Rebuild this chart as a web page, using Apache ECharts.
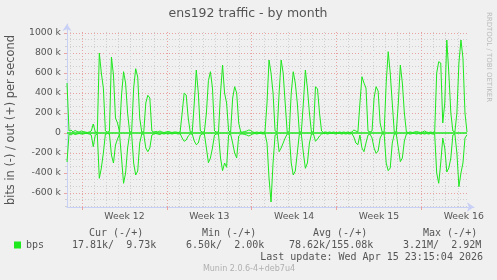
<!DOCTYPE html>
<html><head><meta charset="utf-8">
<script src="https://cdn.jsdelivr.net/npm/echarts@6/dist/echarts.min.js"></script>
<style>html,body{margin:0;padding:0;background:#f0f0f0}#c{width:497px;height:280px}</style>
</head><body><div id="c"></div>
<script>
// ---- data ----
const chartTitle = 'ens192 traffic - by month';
const yAxisTitle = 'bits in (-) / out (+) per second';
const watermark = 'RRDTOOL / TOBI OETIKER';
const footer = 'Munin 2.0.6-4+deb7u4';
const lastUpdate = 'Last update: Wed Apr 15 23:15:04 2026';
const stepHours = 4;          // sample spacing
const spanHours = 792;        // 33 days shown
const weekLabels = [12, 13, 14, 15, 16];
const legendName = 'bps';
const legendHeaders = ['Cur (-/+)', 'Min (-/+)', 'Avg (-/+)', 'Max (-/+)'];
const legendValues = ['17.81k/  9.73k', '6.50k/  2.00k', '78.62k/155.08k', '3.21M/  2.92M'];
// out (+) in kbit/s, one value every 4 hours
const outKbps = [
  500, 20, 30, 10, 25, 15,
  10, 20, 15, 10, 5, 10,
  20, 90, 10, 5, 800, 600,
  450, 20, 10, 15, 760, 580,
  150, 100, 10, 380, 613, 500,
  200, 10, 10, 450, 643, 560,
  150, 10, 10, 300, 377, 350,
  20, 10, 15, 10, 20, 10,
  5, 10, 15, 10, 5, 10,
  10, 5, 10, 200, 400, 380,
  150, 10, 10, 300, 630, 400,
  20, 10, 10, 200, 523, 613,
  450, 20, 10, 10, 400, 680,
  400, 300, 20, 10, 350, 463,
  400, 100, 10, 10, 15, 20,
  30, 25, 10, 5, 10, 5,
  10, 5, 10, 300, 730, 600,
  400, 20, 10, 400, 730, 600,
  300, 10, 10, 400, 613, 500,
  300, 10, 10, 300, 630, 450,
  200, 10, 10, 463, 440, 200,
  20, 5, 10, 5, 10, 5,
  10, 5, 5, 10, 5, 10,
  5, 10, 5, 10, 30, 20,
  10, 300, 563, 500, 450, 20,
  10, 20, 350, 463, 420, 100,
  10, 10, 500, 813, 600, 300,
  10, 10, 300, 680, 500, 200,
  10, 5, 10, 5, 10, 15,
  10, 5, 10, 20, 10, 5,
  10, 5, 10, 600, 713, 700,
  100, 300, 930, 600, 200, 20,
  10, 200, 700, 930, 750, 200,
  10
];
// in (-) in kbit/s, drawn below zero
const inKbps = [
  290, 10, 20, 5, 15, 10,
  5, 10, 10, 5, 5, 10,
  20, 137, 20, 10, 453, 350,
  200, 10, 5, 10, 220, 300,
  120, 60, 10, 250, 503, 400,
  150, 10, 10, 300, 420, 380,
  100, 10, 10, 150, 187, 150,
  20, 10, 5, 10, 15, 5,
  10, 5, 10, 5, 10, 5,
  5, 10, 5, 50, 83, 70,
  30, 10, 10, 80, 117, 100,
  20, 10, 10, 150, 297, 250,
  150, 20, 10, 10, 250, 377,
  300, 343, 20, 10, 100, 200,
  250, 30, 10, 10, 15, 20,
  30, 20, 10, 5, 10, 5,
  5, 10, 5, 100, 450, 690,
  300, 20, 10, 187, 150, 100,
  50, 10, 10, 300, 420, 380,
  200, 10, 10, 200, 353, 300,
  100, 10, 10, 83, 60, 30,
  10, 5, 5, 10, 5, 5,
  5, 10, 5, 5, 10, 5,
  10, 5, 10, 5, 40, 100,
  117, 20, 150, 187, 100, 20,
  10, 50, 150, 203, 180, 50,
  10, 10, 300, 377, 350, 100,
  10, 10, 150, 287, 250, 80,
  10, 5, 10, 5, 5, 10,
  5, 10, 5, 10, 5, 10,
  5, 10, 10, 400, 503, 300,
  50, 150, 390, 350, 250, 20,
  10, 200, 537, 400, 300, 50,
  18
];

// ---- styling ----
const green = '#1ee81e';
const txt = '#555555';
const minorGrid = { color: '#cfcfcf', width: 1, type: [1, 2] };
const majorGrid = { color: '#e8a3a3', width: 1, type: [1, 2] };
const axisBlue = '#c9d0f5';
const sans = 'DejaVu Sans';
const mono = 'DejaVu Sans Mono';

const pxPerHour = 400 / spanHours;
const firstDayH = 5.7, firstWeekH = 29.7;
const gLeft = 67, gTop = 32, gH = 175;

const hidden = (gi, extra) => Object.assign({ gridIndex: gi, show: false, type: 'value' }, extra || {});

const grids = [
  { left: gLeft, top: gTop, width: 400, height: gH },                        // 0 data
  { left: gLeft, top: 33, width: 400, height: 173.333 },                     // 1 minor horiz
  { left: gLeft, top: 33, width: 400, height: 160 },                         // 2 major horiz + labels
  { left: gLeft + firstDayH * pxPerHour, top: gTop, width: 32 * 24 * pxPerHour, height: gH }, // 3 daily
  { left: gLeft + firstWeekH * pxPerHour, top: gTop, width: 4 * 168 * pxPerHour, height: gH }, // 4 weekly
  { left: gLeft + (firstWeekH + 84) * pxPerHour, top: gTop, width: 4 * 168 * pxPerHour, height: gH }, // 5 week labels
  { left: gLeft, top: 24, width: 407, height: 183 }                          // 6 axis lines
];

const option = {
  backgroundColor: '#f0f0f0',
  animation: false,
  grid: grids,
  xAxis: [
    hidden(0, { min: 0, max: spanHours }),
    hidden(1, { min: 0, max: 1 }),
    hidden(2, { min: 0, max: 1 }),
    { gridIndex: 3, type: 'value', min: 0, max: 32, interval: 1,
      axisLine: { show: false }, axisLabel: { show: false },
      axisTick: { show: false },
      splitLine: { show: true, lineStyle: minorGrid } },
    { gridIndex: 4, type: 'value', min: 0, max: 4, interval: 1,
      axisLine: { show: false }, axisLabel: { show: false },
      axisTick: { show: true, length: 3, lineStyle: { color: '#e8a3a3' } },
      splitLine: { show: true, lineStyle: majorGrid } },
    { gridIndex: 5, type: 'value', min: weekLabels[0], max: weekLabels[weekLabels.length - 1], interval: 1,
      axisLine: { show: false }, axisTick: { show: false }, splitLine: { show: false },
      axisLabel: { show: true, margin: 5, color: txt, fontFamily: sans, fontSize: 9.3,
        formatter: v => 'Week ' + v } },
    { gridIndex: 6, type: 'value', min: 0, max: 1, axisLabel: { show: false }, axisTick: { show: false },
      splitLine: { show: false },
      axisLine: { show: true, symbol: ['none', 'arrow'], symbolSize: [7, 7], lineStyle: { color: axisBlue, width: 1 } } }
  ],
  yAxis: [
    hidden(0, { min: -740, max: 1010 }),
    { gridIndex: 1, type: 'value', min: -11, max: 15, interval: 1,
      axisLine: { show: false }, axisLabel: { show: false },
      axisTick: { show: true, length: 2, lineStyle: { color: '#cfcfcf' } },
      splitLine: { show: true, lineStyle: minorGrid } },
    { gridIndex: 2, type: 'value', min: -600, max: 1000, interval: 200,
      axisLine: { show: false },
      axisTick: { show: true, length: 3, lineStyle: { color: '#e8a3a3' } },
      splitLine: { show: true, lineStyle: majorGrid },
      axisLabel: { show: true, margin: 6, color: txt, fontFamily: sans, fontSize: 9.3,
        formatter: v => v === 0 ? '0' : v + ' k' } },
    hidden(3, { min: 0, max: 1 }),
    hidden(4, { min: 0, max: 1 }),
    hidden(5, { min: 0, max: 1 }),
    { gridIndex: 6, type: 'value', min: 0, max: 1, axisLabel: { show: false }, axisTick: { show: false },
      splitLine: { show: false },
      axisLine: { show: true, symbol: ['none', 'arrow'], symbolSize: [7, 7], lineStyle: { color: axisBlue, width: 1 } } }
  ],
  legend: {
    data: [legendName], left: 14, top: 240, icon: 'rect', itemWidth: 7, itemHeight: 7,
    padding: 0, itemGap: 5, selectedMode: false,
    textStyle: { fontFamily: mono, fontSize: 10, color: txt }
  },
  series: [
    { name: legendName, type: 'line', xAxisIndex: 0, yAxisIndex: 0, symbol: 'none', z: 5,
      data: outKbps.map((v, i) => [i * stepHours, v]),
      lineStyle: { color: green, width: 1 }, itemStyle: { color: green },
      markLine: { silent: true, symbol: 'none', label: { show: false },
        lineStyle: { color: green, width: 1.5, type: 'solid' }, data: [{ yAxis: 0 }] } },
    { name: legendName, type: 'line', xAxisIndex: 0, yAxisIndex: 0, symbol: 'none', z: 5,
      data: inKbps.map((v, i) => [i * stepHours, -v]),
      lineStyle: { color: green, width: 1 }, itemStyle: { color: green } }
  ],
  graphic: [
    { type: 'text', x: 248, y: 14, style: { text: chartTitle, align: 'center', verticalAlign: 'middle',
      fontFamily: sans, fontSize: 12.5, fill: txt } },
    { type: 'text', x: 11, y: 120, rotation: Math.PI / 2, style: { text: yAxisTitle, align: 'center',
      verticalAlign: 'middle', fontFamily: sans, fontSize: 11.4, fill: txt } },
    { type: 'text', x: 489, y: 57, rotation: -Math.PI / 2, style: { text: watermark, align: 'center',
      verticalAlign: 'middle', fontFamily: sans, fontSize: 7, fill: '#bbbbbb' } },
    { type: 'text', x: 89, y: 233.5, style: { text: legendHeaders[0], verticalAlign: 'middle', fontFamily: mono, fontSize: 10, fill: txt } },
    { type: 'text', x: 202, y: 233.5, style: { text: legendHeaders[1], verticalAlign: 'middle', fontFamily: mono, fontSize: 10, fill: txt } },
    { type: 'text', x: 313, y: 233.5, style: { text: legendHeaders[2], verticalAlign: 'middle', fontFamily: mono, fontSize: 10, fill: txt } },
    { type: 'text', x: 423, y: 233.5, style: { text: legendHeaders[3], verticalAlign: 'middle', fontFamily: mono, fontSize: 10, fill: txt } },
    { type: 'text', x: 72, y: 245.7, style: { text: legendValues[0], verticalAlign: 'middle', fontFamily: mono, fontSize: 10, fill: txt } },
    { type: 'text', x: 186, y: 245.7, style: { text: legendValues[1], verticalAlign: 'middle', fontFamily: mono, fontSize: 10, fill: txt } },
    { type: 'text', x: 289, y: 245.7, style: { text: legendValues[2], verticalAlign: 'middle', fontFamily: mono, fontSize: 10, fill: txt } },
    { type: 'text', x: 403, y: 245.7, style: { text: legendValues[3], verticalAlign: 'middle', fontFamily: mono, fontSize: 10, fill: txt } },
    { type: 'text', x: 483, y: 257.3, style: { text: lastUpdate, align: 'right', verticalAlign: 'middle', fontFamily: mono, fontSize: 10, fill: txt } },
    { type: 'text', x: 249, y: 268.7, style: { text: footer, align: 'center', verticalAlign: 'middle', fontFamily: sans, fontSize: 8, fill: '#b0b0b0' } }
  ]
};
const chart = echarts.init(document.getElementById('c'), null, { renderer: 'canvas' });
chart.setOption(option);
</script></body></html>
